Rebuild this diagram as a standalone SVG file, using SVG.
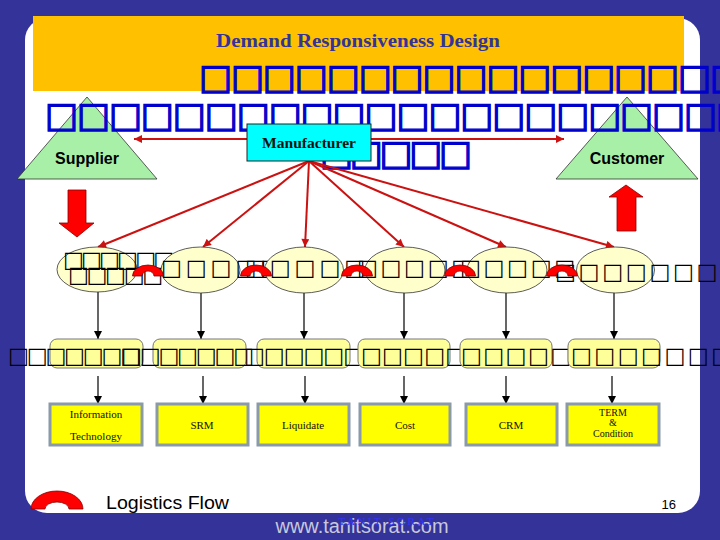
<svg xmlns="http://www.w3.org/2000/svg" width="720" height="540" viewBox="0 0 720 540">
<style>
.tb{font-family:"DejaVu Sans",sans-serif;font-size:35px;fill:#0000cc;stroke:#0000cc;stroke-width:1.3}
.tk{font-family:"DejaVu Sans",sans-serif;font-size:22px;fill:#000}
.ser{font-family:"Liberation Serif","Times New Roman",serif;fill:#111}
.sans{font-family:"Liberation Sans",Arial,sans-serif}
.tri{fill:#a8f0a8;stroke:#333;stroke-width:0.8}
.ell{fill:#ffffcc;stroke:#333;stroke-width:0.8}
.rr{fill:#ffff99;stroke:#777;stroke-width:1}
.bx{fill:#ffff00;stroke:#8a9aa8;stroke-width:3}
.red{stroke:#cc1111;stroke-width:2;fill:none}
.blk{stroke:#000;stroke-width:1.2;fill:none}
.ring{fill:#ff0000;stroke:#880000;stroke-width:0.8}
.bigarrow{fill:#ff0000;stroke:#880000;stroke-width:0.8}
</style>
<defs>
<marker id="ar" viewBox="0 0 10 10" refX="10" refY="5" markerWidth="9" markerHeight="8" markerUnits="userSpaceOnUse" orient="auto-start-reverse"><path d="M0,0 L10,5 L0,10 z" fill="#cc1111"/></marker>
<marker id="ab" viewBox="0 0 10 10" refX="10" refY="5" markerWidth="9" markerHeight="8" markerUnits="userSpaceOnUse" orient="auto"><path d="M0,0 L10,5 L0,10 z" fill="#000"/></marker>
</defs>
<rect x="0" y="0" width="720" height="540" fill="#333399"/>
<rect x="25" y="18" width="675" height="495" rx="22" fill="#ffffff"/>
<rect x="33" y="16" width="651" height="75" fill="#ffc000"/>
<text x="358" y="47" text-anchor="middle" class="ser" font-size="19" font-weight="bold" style="fill:#333399" textLength="284" lengthAdjust="spacingAndGlyphs">Demand Responsiveness Design</text>

<g id="supplier">
<polygon class="tri" points="87,97 17,179 157,179"/>
</g>
<g id="customer">
<polygon class="tri" points="627,97 556,179 698,179"/>
</g>

<g id="banner-text">
<text class="tb" x="199" y="89" textLength="544" lengthAdjust="spacing">□□□□□□□□□□□□□□□□□</text>
<text class="tb" x="45" y="127" textLength="704" lengthAdjust="spacing">□□□□□□□□□□□□□□□□□□□□□□</text>
<text class="tb" x="320" y="165" textLength="152" lengthAdjust="spacing">□□□□□</text>
</g>

<text x="87" y="164" text-anchor="middle" class="sans" font-size="16" font-weight="bold" fill="#000">Supplier</text>
<text x="627" y="164" text-anchor="middle" class="sans" font-size="16" font-weight="bold" fill="#000">Customer</text>

<g id="connectors">
<line class="red" x1="134" y1="139" x2="564" y2="139" marker-start="url(#ar)" marker-end="url(#ar)"/>
<line class="red" x1="309" y1="161" x2="98" y2="247" marker-end="url(#ar)"/>
<line class="red" x1="309" y1="161" x2="203" y2="247" marker-end="url(#ar)"/>
<line class="red" x1="309" y1="161" x2="305" y2="247" marker-end="url(#ar)"/>
<line class="red" x1="309" y1="161" x2="404" y2="247" marker-end="url(#ar)"/>
<line class="red" x1="309" y1="161" x2="506" y2="247" marker-end="url(#ar)"/>
<line class="red" x1="309" y1="161" x2="614" y2="247" marker-end="url(#ar)"/>
<line class="blk" x1="98" y1="292" x2="98" y2="339" marker-end="url(#ab)"/>
<line class="blk" x1="201" y1="293" x2="201" y2="339" marker-end="url(#ab)"/>
<line class="blk" x1="304" y1="293" x2="304" y2="339" marker-end="url(#ab)"/>
<line class="blk" x1="404" y1="293" x2="404" y2="339" marker-end="url(#ab)"/>
<line class="blk" x1="506" y1="293" x2="506" y2="339" marker-end="url(#ab)"/>
<line class="blk" x1="614" y1="293" x2="614" y2="339" marker-end="url(#ab)"/>
<line class="blk" x1="98" y1="376" x2="98" y2="404" marker-end="url(#ab)"/>
<line class="blk" x1="203" y1="376" x2="203" y2="404" marker-end="url(#ab)"/>
<line class="blk" x1="305" y1="376" x2="305" y2="404" marker-end="url(#ab)"/>
<line class="blk" x1="404" y1="376" x2="404" y2="404" marker-end="url(#ab)"/>
<line class="blk" x1="506" y1="376" x2="506" y2="404" marker-end="url(#ab)"/>
<line class="blk" x1="612" y1="376" x2="612" y2="404" marker-end="url(#ab)"/>
</g>

<g id="manufacturer">
<rect x="247" y="124" width="124" height="37" fill="#00ffff" stroke="#222" stroke-width="1"/>
<text x="309" y="148" text-anchor="middle" class="ser" font-size="15" font-weight="bold" textLength="94" lengthAdjust="spacingAndGlyphs">Manufacturer</text>
</g>

<g id="supply-arrow"><polygon class="bigarrow" points="68,190 86,190 86,223 94,223 77,237 59,223 68,223"/></g>
<g id="demand-arrow"><polygon class="bigarrow" points="626,185 643,197 636,197 636,231 617,231 617,197 609,197"/></g>

<g id="e1"><ellipse class="ell" cx="97" cy="269.5" rx="40" ry="22.5"/>
<text class="tk" x="63" y="267" textLength="111" lengthAdjust="spacing">□□□□□□</text>
<text class="tk" x="68" y="282" textLength="95" lengthAdjust="spacing">□□□□□</text></g>
<g id="e2"><ellipse class="ell" cx="200.5" cy="270" rx="39.5" ry="23"/>
<text class="tk" x="161" y="275" textLength="120" lengthAdjust="spacing">□□□□□</text></g>
<g id="e3"><ellipse class="ell" cx="304" cy="270" rx="39.5" ry="23"/>
<text class="tk" x="245" y="275" textLength="120" lengthAdjust="spacing">□□□□□</text></g>
<g id="e4"><ellipse class="ell" cx="405" cy="270" rx="40" ry="23"/>
<text class="tk" x="357" y="275" textLength="115" lengthAdjust="spacing">□□□□□</text></g>
<g id="e5"><ellipse class="ell" cx="507" cy="270" rx="40" ry="23"/>
<text class="tk" x="460" y="275" textLength="115" lengthAdjust="spacing">□□□□□</text></g>
<g id="e6"><ellipse class="ell" cx="615.5" cy="270" rx="39" ry="23"/>
<text class="tk" x="555" y="279" textLength="186" lengthAdjust="spacing" font-size="25">□□□□□□□□</text></g>

<g id="logistics-flow">
<path class="ring" d="M132.5 276 A15.5 11 0 0 1 163.5 276 L154 276 A6 5 0 0 0 142 276 Z"/>
<path class="ring" d="M240.5 276 A15.5 11 0 0 1 271.5 276 L262 276 A6 5 0 0 0 250 276 Z"/>
<path class="ring" d="M341.5 276 A15.5 11 0 0 1 372.5 276 L363 276 A6 5 0 0 0 351 276 Z"/>
<path class="ring" d="M444.5 276 A15.5 11 0 0 1 475.5 276 L466 276 A6 5 0 0 0 454 276 Z"/>
<path class="ring" d="M546.5 276 A15.5 11 0 0 1 577.5 276 L568 276 A6 5 0 0 0 556 276 Z"/>
</g>

<g id="r1"><rect class="rr" x="50" y="339" width="93" height="29" rx="7"/>
<text class="tk" x="8" y="363" textLength="133" lengthAdjust="spacing">□□□□□□□</text></g>
<g id="r2"><rect class="rr" x="153" y="339" width="93" height="29" rx="7"/>
<text class="tk" x="121" y="363" textLength="133" lengthAdjust="spacing">□□□□□□□</text></g>
<g id="r3"><rect class="rr" x="257" y="339" width="93" height="29" rx="7"/>
<text class="tk" x="244" y="363" textLength="120" lengthAdjust="spacing">□□□□□□</text></g>
<g id="r4"><rect class="rr" x="358" y="339" width="92" height="29" rx="7"/>
<text class="tk" x="361" y="363" textLength="105" lengthAdjust="spacing">□□□□□</text></g>
<g id="r5"><rect class="rr" x="460" y="339" width="92" height="29" rx="7"/>
<text class="tk" x="461" y="363" textLength="110" lengthAdjust="spacing">□□□□□</text></g>
<g id="r6"><rect class="rr" x="568" y="339" width="92" height="29" rx="7"/>
<text class="tk" x="571" y="363" textLength="161" lengthAdjust="spacing">□□□□□□□</text></g>

<g id="b1"><rect class="bx" x="50" y="404" width="92" height="41"/>
<text class="ser" x="96" y="418" text-anchor="middle" font-size="11">Information</text>
<text class="ser" x="96" y="440" text-anchor="middle" font-size="11">Technology</text></g>
<g id="b2"><rect class="bx" x="157" y="404" width="91" height="41"/>
<text class="ser" x="202" y="429" text-anchor="middle" font-size="11">SRM</text></g>
<g id="b3"><rect class="bx" x="258" y="404" width="91" height="41"/>
<text class="ser" x="303" y="429" text-anchor="middle" font-size="11">Liquidate</text></g>
<g id="b4"><rect class="bx" x="360" y="404" width="90" height="41"/>
<text class="ser" x="405" y="429" text-anchor="middle" font-size="11">Cost</text></g>
<g id="b5"><rect class="bx" x="466" y="404" width="91" height="41"/>
<text class="ser" x="511" y="429" text-anchor="middle" font-size="11">CRM</text></g>
<g id="b6"><rect class="bx" x="567" y="404" width="92" height="41"/>
<text class="ser" x="613" y="416" text-anchor="middle" font-size="10">TERM</text>
<text class="ser" x="613" y="426" text-anchor="middle" font-size="10">&amp;</text>
<text class="ser" x="613" y="437" text-anchor="middle" font-size="10">Condition</text></g>

<g id="legend">
<path class="ring" d="M31 509 A26 18 0 0 1 83 509 L69 509 A12 7 0 0 0 45 509 Z"/>
<text x="106" y="509" class="sans" font-size="18.5" fill="#000" textLength="123" lengthAdjust="spacingAndGlyphs">Logistics Flow</text>
</g>
<text x="676" y="509" text-anchor="end" class="sans" font-size="13" fill="#000">16</text>
<text x="362" y="533" text-anchor="middle" class="sans" font-size="20" fill="#c8c8dc" textLength="173" lengthAdjust="spacingAndGlyphs">www.tanitsorat.com</text>
<text x="386" y="525" text-anchor="middle" class="ser" font-size="11" style="fill:#3333ff" textLength="95" lengthAdjust="spacing">TANIT SORAT</text>
</svg>
